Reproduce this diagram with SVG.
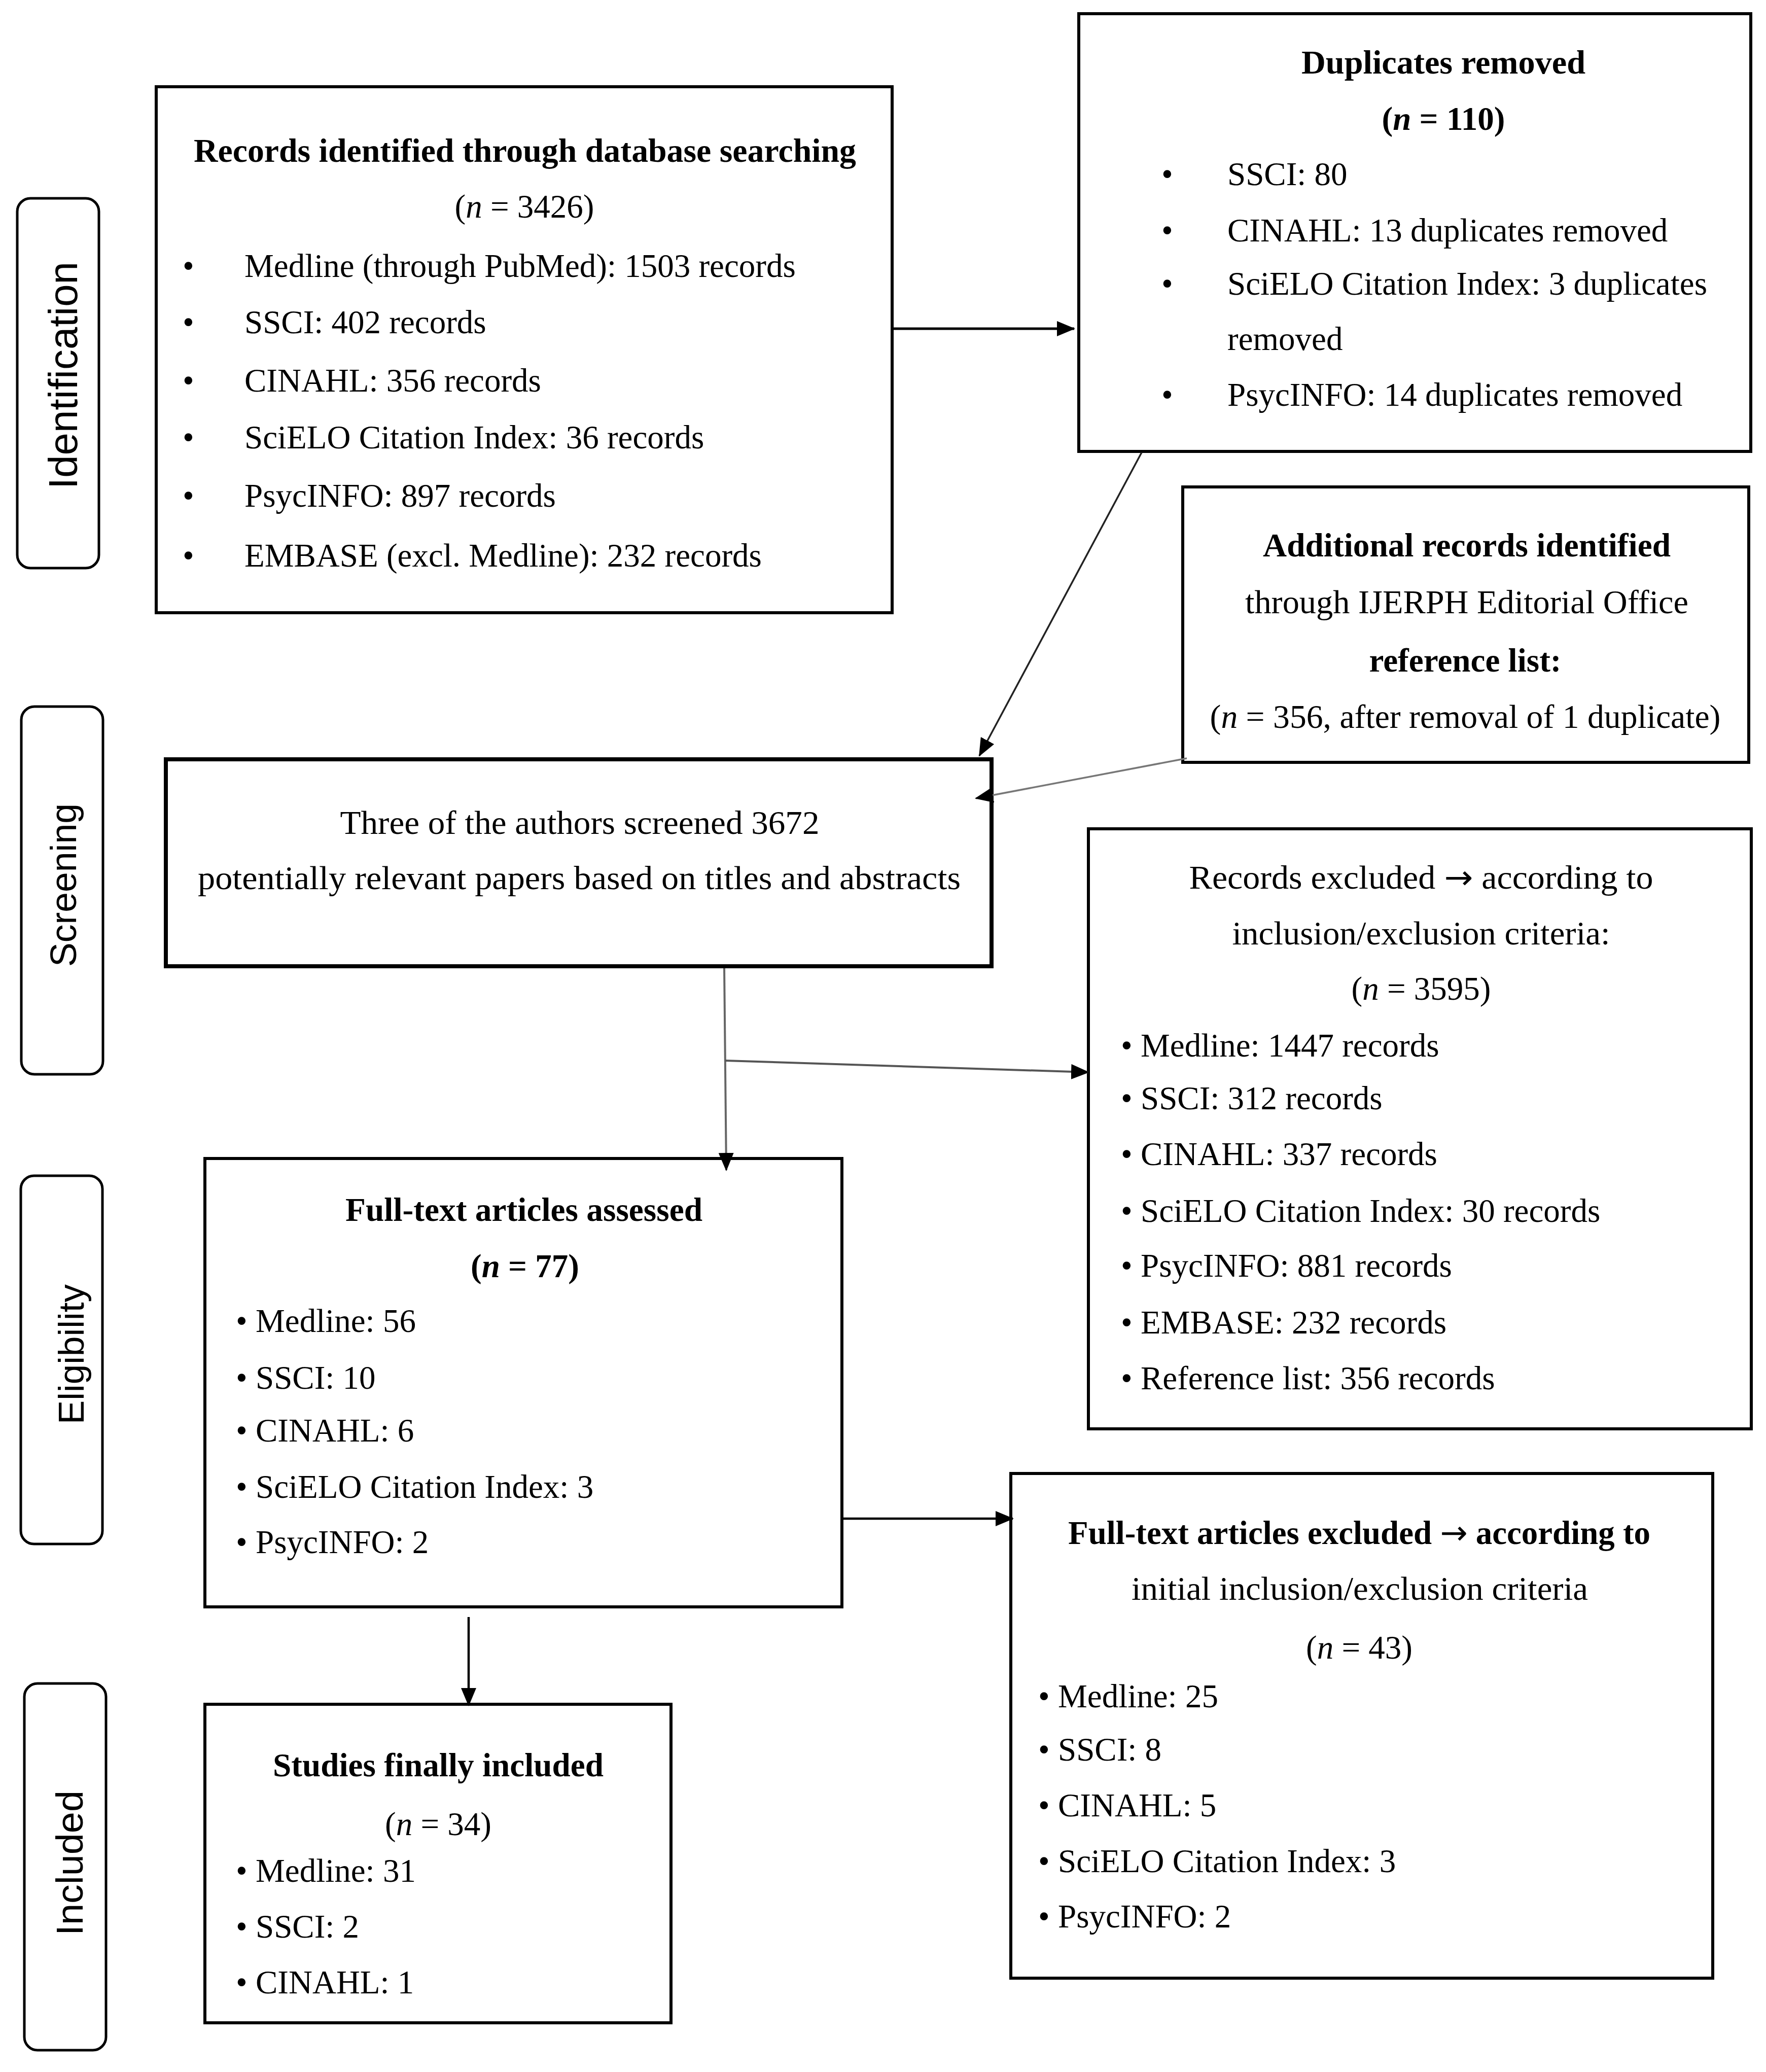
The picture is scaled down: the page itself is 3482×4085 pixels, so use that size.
<svg xmlns="http://www.w3.org/2000/svg" width="3482" height="4085" viewBox="0 0 3482 4085">
<style>
.box{fill:#fff;stroke:#000;stroke-width:6}
.lab{fill:#fff;stroke:#000;stroke-width:5}
.t{font-family:"Liberation Serif","Times New Roman",serif;font-size:65px;fill:#000}
.b{font-weight:bold}
.c{text-anchor:middle}
.side{font-family:"Liberation Sans",Arial,sans-serif;text-anchor:middle;fill:#000}
.i{font-style:italic}
.arr{font-family:"DejaVu Sans",sans-serif;font-weight:normal}
.con{fill:none;stroke-linecap:butt}
</style>
<defs>
<marker id="ah" markerUnits="userSpaceOnUse" markerWidth="36" markerHeight="30" refX="34" refY="15" orient="auto">
<path d="M0,0 L36,15 L0,30 z" fill="#000"/>
</marker>
</defs>
<rect width="3482" height="4085" fill="#fff"/>

<g id="label-identification">
<rect class="lab" x="34" y="391" width="161" height="729" rx="26"/>
<text class="side" font-size="80" textLength="448" lengthAdjust="spacingAndGlyphs" transform="translate(152,740) rotate(-90)">Identification</text>
</g>
<g id="label-screening">
<rect class="lab" x="42" y="1393" width="161" height="725" rx="26"/>
<text class="side" font-size="72" textLength="322" lengthAdjust="spacingAndGlyphs" transform="translate(150,1745) rotate(-90)">Screening</text>
</g>
<g id="label-eligibility">
<rect class="lab" x="41" y="2318" width="161" height="726" rx="26"/>
<text class="side" font-size="71" textLength="276" lengthAdjust="spacingAndGlyphs" transform="translate(165,2670) rotate(-90)">Eligibility</text>
</g>
<g id="label-included">
<rect class="lab" x="48" y="3319" width="161" height="723" rx="26"/>
<text class="side" font-size="75" textLength="286" lengthAdjust="spacingAndGlyphs" transform="translate(163,3673) rotate(-90)">Included</text>
</g>

<g id="records-identified">
<rect class="box" x="308" y="171" width="1451" height="1037"/>
<text class="t b c" x="1035" y="319" textLength="1306" lengthAdjust="spacingAndGlyphs">Records identified through database searching</text>
<text class="t c" x="1034" y="429">(<tspan class="i">n</tspan> = 3426)</text>
<text class="t" x="360" y="546">•</text><text class="t" x="482" y="546">Medline (through PubMed): 1503 records</text>
<text class="t" x="360" y="657">•</text><text class="t" x="482" y="657">SSCI: 402 records</text>
<text class="t" x="360" y="772">•</text><text class="t" x="482" y="772">CINAHL: 356 records</text>
<text class="t" x="360" y="884">•</text><text class="t" x="482" y="884">SciELO Citation Index: 36 records</text>
<text class="t" x="360" y="999">•</text><text class="t" x="482" y="999">PsycINFO: 897 records</text>
<text class="t" x="360" y="1117">•</text><text class="t" x="482" y="1117">EMBASE (excl. Medline): 232 records</text>
</g>

<g id="duplicates-removed">
<rect class="box" x="2127" y="27" width="1325" height="863"/>
<text class="t b c" x="2846" y="145" textLength="560" lengthAdjust="spacingAndGlyphs">Duplicates removed</text>
<text class="t b c" x="2846" y="256">(<tspan class="i">n</tspan> = 110)</text>
<text class="t" x="2290" y="365">•</text><text class="t" x="2420" y="365">SSCI: 80</text>
<text class="t" x="2290" y="476">•</text><text class="t" x="2420" y="476">CINAHL: 13 duplicates removed</text>
<text class="t" x="2290" y="581">•</text><text class="t" x="2420" y="581">SciELO Citation Index: 3 duplicates</text>
<text class="t" x="2420" y="690">removed</text>
<text class="t" x="2290" y="800">•</text><text class="t" x="2420" y="800">PsycINFO: 14 duplicates removed</text>
</g>

<g id="additional-records">
<rect class="box" x="2332" y="960" width="1116" height="543"/>
<text class="t b c" x="2892" y="1097" textLength="804" lengthAdjust="spacingAndGlyphs">Additional records identified</text>
<text class="t c" x="2892" y="1209" textLength="874" lengthAdjust="spacingAndGlyphs">through IJERPH Editorial Office</text>
<text class="t b c" x="2889" y="1324" textLength="379" lengthAdjust="spacingAndGlyphs">reference list:</text>
<text class="t c" x="2889" y="1435" textLength="1007" lengthAdjust="spacingAndGlyphs">(<tspan class="i">n</tspan> = 356, after removal of 1 duplicate)</text>
</g>

<g id="screening-box">
<rect class="box" x="327" y="1497" width="1628" height="408" style="stroke-width:8"/>
<text class="t c" x="1143" y="1644" textLength="945" lengthAdjust="spacingAndGlyphs">Three of the authors screened 3672</text>
<text class="t c" x="1142" y="1753" textLength="1504" lengthAdjust="spacingAndGlyphs">potentially relevant papers based on titles and abstracts</text>
</g>

<g id="records-excluded">
<rect class="box" x="2146" y="1634" width="1307" height="1183"/>
<text class="t c" x="2802" y="1752" textLength="915" lengthAdjust="spacingAndGlyphs">Records excluded <tspan class="arr">→</tspan> according to</text>
<text class="t c" x="2802" y="1862" textLength="745" lengthAdjust="spacingAndGlyphs">inclusion/exclusion criteria:</text>
<text class="t c" x="2802" y="1971">(<tspan class="i">n</tspan> = 3595)</text>
<text class="t" x="2210" y="2083">• Medline: 1447 records</text>
<text class="t" x="2210" y="2187">• SSCI: 312 records</text>
<text class="t" x="2210" y="2297">• CINAHL: 337 records</text>
<text class="t" x="2210" y="2409">• SciELO Citation Index: 30 records</text>
<text class="t" x="2210" y="2517">• PsycINFO: 881 records</text>
<text class="t" x="2210" y="2629">• EMBASE: 232 records</text>
<text class="t" x="2210" y="2739">• Reference list: 356 records</text>
</g>

<g id="fulltext-assessed">
<rect class="box" x="404" y="2284" width="1256" height="884"/>
<text class="t b c" x="1033" y="2407" textLength="704" lengthAdjust="spacingAndGlyphs">Full-text articles assessed</text>
<text class="t b c" x="1035" y="2518">(<tspan class="i">n</tspan> = 77)</text>
<text class="t" x="465" y="2626">• Medline: 56</text>
<text class="t" x="465" y="2738">• SSCI: 10</text>
<text class="t" x="465" y="2842">• CINAHL: 6</text>
<text class="t" x="465" y="2953">• SciELO Citation Index: 3</text>
<text class="t" x="465" y="3062">• PsycINFO: 2</text>
</g>

<g id="studies-included">
<rect class="box" x="404" y="3360" width="919" height="628"/>
<text class="t b c" x="864" y="3502" textLength="652" lengthAdjust="spacingAndGlyphs">Studies finally included</text>
<text class="t c" x="864" y="3618">(<tspan class="i">n</tspan> = 34)</text>
<text class="t" x="465" y="3710">• Medline: 31</text>
<text class="t" x="465" y="3820">• SSCI: 2</text>
<text class="t" x="465" y="3930">• CINAHL: 1</text>
</g>

<g id="fulltext-excluded">
<rect class="box" x="1993" y="2905" width="1384" height="995"/>
<text class="t b c" x="2680" y="3044" textLength="1148" lengthAdjust="spacingAndGlyphs">Full-text articles excluded <tspan class="arr">→</tspan> according to</text>
<text class="t c" x="2681" y="3154" textLength="900" lengthAdjust="spacingAndGlyphs">initial inclusion/exclusion criteria</text>
<text class="t c" x="2680" y="3270">(<tspan class="i">n</tspan> = 43)</text>
<text class="t" x="2047" y="3366">• Medline: 25</text>
<text class="t" x="2047" y="3471">• SSCI: 8</text>
<text class="t" x="2047" y="3581">• CINAHL: 5</text>
<text class="t" x="2047" y="3691">• SciELO Citation Index: 3</text>
<text class="t" x="2047" y="3800">• PsycINFO: 2</text>
</g>

<g id="connectors">
<line class="con" x1="1762" y1="648" x2="2118" y2="648" stroke="#000" stroke-width="5" marker-end="url(#ah)"/>
<line class="con" x1="2251" y1="892" x2="1931" y2="1490" stroke="#222" stroke-width="3.5" marker-end="url(#ah)"/>
<line class="con" x1="2340" y1="1495" x2="1924" y2="1574" stroke="#777" stroke-width="3.5" marker-end="url(#ah)"/>
<line class="con" x1="1428" y1="1909" x2="1432" y2="2307" stroke="#666" stroke-width="4" marker-end="url(#ah)"/>
<line class="con" x1="1430" y1="2091" x2="2146" y2="2114" stroke="#555" stroke-width="4" marker-end="url(#ah)"/>
<line class="con" x1="1663" y1="2994" x2="1997" y2="2994" stroke="#000" stroke-width="4.5" marker-end="url(#ah)"/>
<line class="con" x1="924" y1="3188" x2="924" y2="3362" stroke="#000" stroke-width="4.5" marker-end="url(#ah)"/>
</g>
</svg>
